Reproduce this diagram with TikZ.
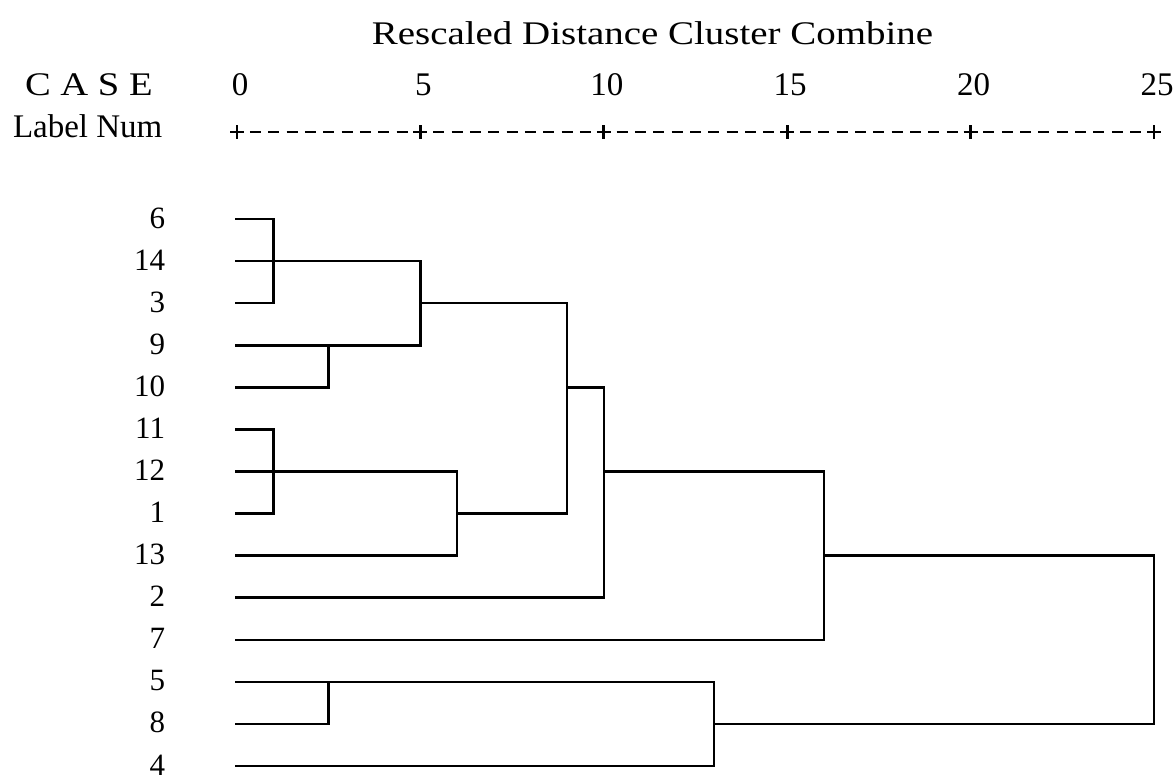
\documentclass[tikz,border=0pt]{standalone}
\usepackage{fontspec}
\setmainfont{Liberation Serif}
\begin{document}
\begin{tikzpicture}[x=1pt,y=-1pt,
  txt/.style={inner sep=0pt,outer sep=0pt,font=\fontsize{33}{33}\selectfont},
  lab/.style={inner sep=0pt,outer sep=0pt,font=\fontsize{31}{31}\selectfont,anchor=base east},
  axnum/.style={inner sep=0pt,outer sep=0pt,font=\fontsize{33}{33}\selectfont,anchor=base},
  tree/.style={line width=2.6pt,line join=miter,line cap=rect},
  axmark/.style={line width=2.8pt}]
\useasboundingbox[fill=white] (0,0) rectangle (1176,779);

% titles
\node[txt,anchor=base] (title) at (652.5,44) {\scalebox{1.18}[1]{Rescaled Distance Cluster Combine}};
\node[txt,anchor=base west] (case) at (25,95) {\scalebox{1.17}[1]{C A S E}};
\node[txt,anchor=base west] (labnum) at (13,137) {Label Num};

% axis numbers
\foreach \v [count=\k from 0] in {0,5,10,15,20,25} {
  \node[axnum] (ax\v) at ({240+183.4*\k},95) {\v};
}

% axis ruler
\foreach \k in {0,...,5} {
  \draw[axmark] ({237+183.4*\k-7},132) -- ({237+183.4*\k+7},132);
  \draw[axmark] ({237+183.4*\k},125) -- ({237+183.4*\k},139);
}
\foreach \k in {0,...,4} {
  \foreach \j in {1,...,9} {
    \draw[axmark] ({237+183.4*\k+18.34*\j-5.5},132) -- ({237+183.4*\k+18.34*\j+5.5},132);
  }
}

% leaves
\foreach \n [count=\i from 0] in {6,14,3,9,10,11,12,1,13,2,7,5,8,4} {
  \node[lab] (n\n) at (165,{219+42.08*\i+9}) {\n};
  \coordinate (l\n) at (236,{219+42.08*\i});
}

% merge distances
\coordinate (xA) at (273.7,0);
\coordinate (xB) at (328.7,0);
\coordinate (xC) at (420.4,0);
\coordinate (xE) at (457.1,0);
\coordinate (xF) at (567.1,0);
\coordinate (xG) at (603.8,0);
\coordinate (xH) at (823.9,0);
\coordinate (xJ) at (713.8,0);
\coordinate (xK) at (1154.0,0);

% dendrogram
\draw[tree] (l6) -- (xA |- l6) -- (xA |- l3) -- (l3);
\draw[tree] (l14) -- (xC |- l14) -- (xC |- l9) -- (l9);
\draw[tree] (xB |- l9) -- (xB |- l10) -- (l10);
\draw[tree] (l11) -- (xA |- l11) -- (xA |- l1) -- (l1);
\draw[tree] (l12) -- (xE |- l12) -- (xE |- l13) -- (l13);
\draw[tree] (xC |- l3) -- (xF |- l3) -- (xF |- l1) -- (xE |- l1);
\draw[tree] (xF |- l10) -- (xG |- l10) -- (xG |- l2) -- (l2);
\draw[tree] (xG |- l12) -- (xH |- l12) -- (xH |- l7) -- (l7);
\draw[tree] (l5) -- (xJ |- l5) -- (xJ |- l4) -- (l4);
\draw[tree] (xB |- l5) -- (xB |- l8) -- (l8);
\draw[tree] (xH |- l13) -- (xK |- l13) -- (xK |- l8) -- (xJ |- l8);
\end{tikzpicture}
\end{document}
